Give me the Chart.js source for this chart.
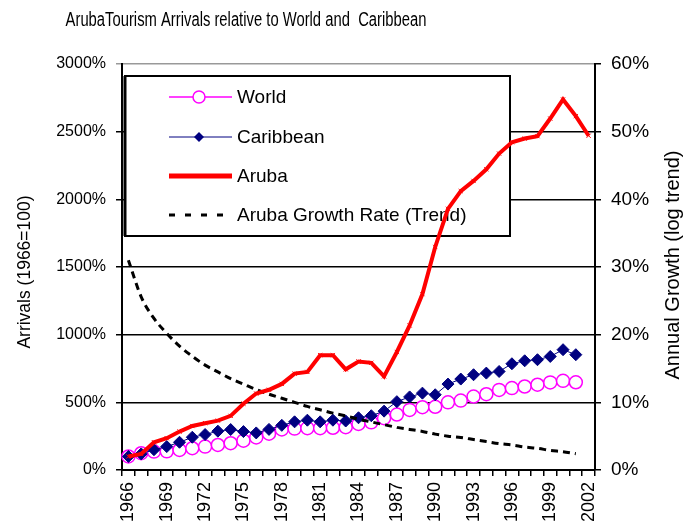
<!DOCTYPE html>
<html>
<head>
<meta charset="utf-8">
<script src="https://cdn.jsdelivr.net/npm/chart.js@4.4.0/dist/chart.umd.min.js"></script>
<style>
    body { margin: 0; background: #fff; }
    #wrap { width: 691px; height: 527px; }
</style>
</head>
<body>
<div id="wrap"><canvas id="plot-01" width="691" height="527"></canvas></div>
<script>
const years = ['1966', '1967', '1968', '1969', '1970', '1971', '1972', '1973', '1974', '1975',
    '1976', '1977', '1978', '1979', '1980', '1981', '1982', '1983', '1984', '1985',
    '1986', '1987', '1988', '1989', '1990', '1991', '1992', '1993', '1994', '1995',
    '1996', '1997', '1998', '1999', '2000', '2001', '2002'];

// arrivals index, 1966 = 100
const world = [100, 124, 136, 138, 148, 161, 173, 185, 198, 217,
    241, 268, 300, 306, 309, 309, 312, 316, 340, 352,
    383, 410, 444, 464, 467, 500, 513, 543, 560, 592,
    605, 617, 630, 647, 659, 648];
const caribbean = [100, 119, 150, 173, 205, 242, 262, 287, 299, 284,
    274, 300, 330, 356, 368, 356, 368, 362, 386, 401,
    435, 505, 540, 568, 556, 635, 672, 704, 716, 728,
    785, 807, 815, 839, 889, 852];
const aruba = [100, 119, 205, 235, 284, 325, 346, 365, 400, 490,
    565, 593, 636, 712, 725, 848, 848, 744, 802, 792,
    692, 872, 1068, 1300, 1648, 1930, 2061, 2136, 2222, 2338,
    2422, 2449, 2467, 2597, 2738, 2615, 2470];
// annual growth (log trend), percent
const growth = [31.0, 25.6, 22.4, 20.2, 18.3, 16.8, 15.5, 14.5, 13.5, 12.7,
    11.9, 11.2, 10.6, 10.0, 9.4, 8.9, 8.4, 8.0, 7.5, 7.1,
    6.7, 6.3, 6.0, 5.7, 5.3, 5.0, 4.8, 4.5, 4.2, 3.9,
    3.7, 3.4, 3.2, 2.9, 2.7, 2.4];

const leftTicks = [0, 500, 1000, 1500, 2000, 2500, 3000];
const rightTicks = [0, 10, 20, 30, 40, 50, 60];

const chartTitle = 'ArubaTourism Arrivals relative to World and  Caribbean';
const leftTitle = 'Arrivals (1966=100)';
const rightTitle = 'Annual Growth (log trend)';
const legendNames = ['World', 'Caribbean', 'Aruba', 'Aruba Growth Rate (Trend)'];

const FONT = '"Liberation Sans", Arial, sans-serif';

// titles drawn by hand, the right one reads bottom-up like the original
const textPlugin = {
    id: 'texts',
    afterDraw(chart) {
        const ctx = chart.ctx;
        ctx.save();
        ctx.fillStyle = '#000';
        ctx.font = '20px ' + FONT;
        ctx.textAlign = 'center';
        ctx.textBaseline = 'alphabetic';
        ctx.translate(246, 26);
        ctx.scale(0.74, 1);
        ctx.fillText(chartTitle, 0, 0);
        ctx.restore();

        ctx.save();
        ctx.fillStyle = '#000';
        ctx.font = '17.5px ' + FONT;
        ctx.textAlign = 'center';
        ctx.textBaseline = 'middle';
        ctx.translate(25, 272);
        ctx.rotate(-Math.PI / 2);
        ctx.fillText(leftTitle, 0, 0);
        ctx.restore();

        ctx.save();
        ctx.fillStyle = '#000';
        ctx.font = '20px ' + FONT;
        ctx.textAlign = 'center';
        ctx.textBaseline = 'middle';
        ctx.translate(673, 265);
        ctx.rotate(-Math.PI / 2);
        ctx.fillText(rightTitle, 0, 0);
        ctx.restore();
    }
};

// boxed legend inside the plot, under the lines
const legendPlugin = {
    id: 'boxLegend',
    beforeDatasetsDraw(chart) {
        const ctx = chart.ctx;
        const x0 = 125, y0 = 76, x1 = 510, y1 = 236;
        ctx.save();
        ctx.fillStyle = '#fff';
        ctx.fillRect(x0, y0, x1 - x0, y1 - y0);
        ctx.strokeStyle = '#000';
        ctx.lineWidth = 2;
        ctx.strokeRect(x0, y0, x1 - x0, y1 - y0);
        ctx.lineWidth = 3;
        ctx.beginPath();
        ctx.moveTo(x0, y0);
        ctx.lineTo(x0, y1);
        ctx.stroke();

        const rows = [97, 137, 176, 215];
        const lx0 = 169, lx1 = 232, mx = 199;

        // World
        ctx.strokeStyle = '#FF00FF';
        ctx.lineWidth = 1.5;
        ctx.beginPath();
        ctx.moveTo(lx0, rows[0]);
        ctx.lineTo(lx1, rows[0]);
        ctx.stroke();
        ctx.fillStyle = '#fff';
        ctx.beginPath();
        ctx.arc(mx, rows[0], 6, 0, Math.PI * 2);
        ctx.fill();
        ctx.stroke();

        // Caribbean
        ctx.strokeStyle = '#000080';
        ctx.fillStyle = '#000080';
        ctx.lineWidth = 1;
        ctx.beginPath();
        ctx.moveTo(lx0, rows[1]);
        ctx.lineTo(lx1, rows[1]);
        ctx.stroke();
        ctx.beginPath();
        ctx.moveTo(mx, rows[1] - 5);
        ctx.lineTo(mx + 5, rows[1]);
        ctx.lineTo(mx, rows[1] + 5);
        ctx.lineTo(mx - 5, rows[1]);
        ctx.closePath();
        ctx.fill();

        // Aruba
        ctx.strokeStyle = '#FF0000';
        ctx.lineWidth = 5;
        ctx.beginPath();
        ctx.moveTo(lx0, rows[2]);
        ctx.lineTo(lx1, rows[2]);
        ctx.stroke();

        // trend
        ctx.strokeStyle = '#000';
        ctx.lineWidth = 3;
        ctx.setLineDash([6, 10]);
        ctx.beginPath();
        ctx.moveTo(lx0, rows[3]);
        ctx.lineTo(lx1, rows[3]);
        ctx.stroke();
        ctx.setLineDash([]);

        ctx.fillStyle = '#000';
        ctx.font = '19px ' + FONT;
        ctx.textAlign = 'left';
        ctx.textBaseline = 'middle';
        legendNames.forEach((name, i) => ctx.fillText(name, 237, rows[i] + 1));
        ctx.restore();
    }
};

function plot01() {
    const data = {
        labels: years,
        datasets: [
            {
                label: legendNames[2],
                data: aruba,
                yAxisID: 'y',
                borderColor: '#FF0000',
                backgroundColor: '#FF0000',
                borderWidth: 4,
                pointStyle: 'crossRot',
                pointRadius: 3,
                pointBorderWidth: 1,
                order: 0
            },
            {
                label: legendNames[3],
                data: growth,
                yAxisID: 'y1',
                borderColor: '#000',
                borderWidth: 3,
                borderDash: [7, 5],
                pointRadius: 0,
                cubicInterpolationMode: 'monotone',
                order: 1
            },
            {
                label: legendNames[1],
                data: caribbean,
                yAxisID: 'y',
                borderColor: '#000080',
                backgroundColor: '#000080',
                borderWidth: 1,
                pointStyle: 'rectRot',
                pointRadius: 6,
                pointBorderWidth: 1,
                order: 2
            },
            {
                label: legendNames[0],
                data: world,
                yAxisID: 'y',
                borderColor: '#FF00FF',
                backgroundColor: '#fff',
                borderWidth: 1.5,
                pointStyle: 'circle',
                pointRadius: 6.5,
                pointBorderWidth: 1.5,
                order: 3
            }
        ]
    };

    const config = {
        type: 'line',
        data: data,
        options: {
            responsive: false,
            animation: false,
            devicePixelRatio: 1,
            layout: {
                padding: {top: 64, left: 0, right: 0, bottom: 0}
            },
            plugins: {
                legend: {display: false},
                title: {display: false},
                tooltip: {enabled: false}
            },
            scales: {
                x: {
                    type: 'category',
                    offset: true,
                    grid: {
                        offset: true,
                        drawOnChartArea: false,
                        drawTicks: true,
                        tickLength: 6,
                        color: '#000',
                        lineWidth: 1.5
                    },
                    border: {display: true, color: '#000', width: 2},
                    ticks: {
                        autoSkip: false,
                        minRotation: 90,
                        maxRotation: 90,
                        padding: 6,
                        color: '#000',
                        font: {family: FONT, size: 18},
                        callback: function (value, index) {
                            return index % 3 === 0 ? years[index] : '';
                        }
                    },
                    afterFit: (scale) => { scale.height = 57; }
                },
                y: {
                    position: 'left',
                    min: leftTicks[0],
                    max: leftTicks[leftTicks.length - 1],
                    afterBuildTicks: (scale) => { scale.ticks = leftTicks.map(v => ({value: v})); },
                    grid: {
                        color: (ctx) => ctx.tick && ctx.tick.value === 3000 ? '#999' : '#000',
                        lineWidth: 1.5,
                        tickLength: 6
                    },
                    border: {display: true, color: '#000', width: 2},
                    ticks: {
                        padding: 10,
                        color: '#000',
                        font: {family: FONT, size: 16},
                        callback: (v) => v + '%'
                    },
                    afterFit: (scale) => { scale.width = 122; }
                },
                y1: {
                    position: 'right',
                    min: rightTicks[0],
                    max: rightTicks[rightTicks.length - 1],
                    afterBuildTicks: (scale) => { scale.ticks = rightTicks.map(v => ({value: v})); },
                    grid: {
                        drawOnChartArea: false,
                        color: '#000',
                        lineWidth: 1.5,
                        tickLength: 6
                    },
                    border: {display: true, color: '#000', width: 2},
                    ticks: {
                        padding: 10,
                        color: '#000',
                        font: {family: FONT, size: 19},
                        callback: (v) => v + '%'
                    },
                    afterFit: (scale) => { scale.width = 96; }
                }
            }
        },
        plugins: [legendPlugin, textPlugin]
    };

    const myChart = new Chart(
        document.getElementById('plot-01').getContext('2d'),
        config
    );
}

plot01();
</script>
</body>
</html>
